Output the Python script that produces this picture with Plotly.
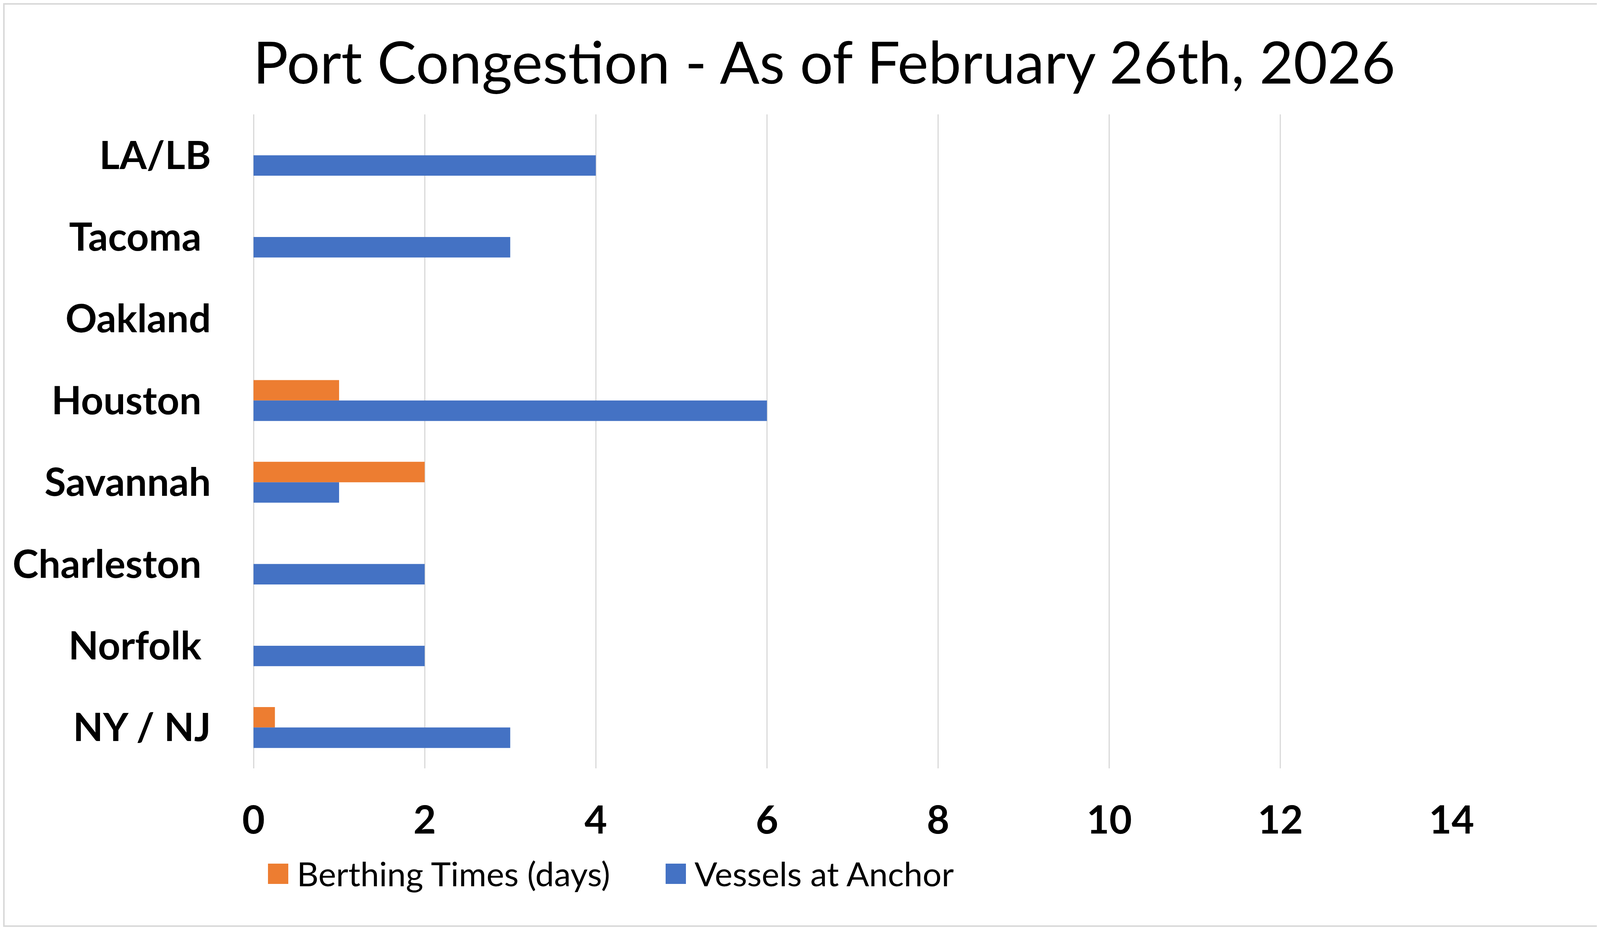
import plotly.graph_objects as go

# data
ports = ["LA/LB", "Tacoma", "Oakland", "Houston", "Savannah", "Charleston", "Norfolk", "NY / NJ"]
port_labels = ["LA/LB", "Tacoma\u00a0", "Oakland", "Houston\u00a0", "Savannah",
               "Charleston\u00a0", "Norfolk\u00a0", "NY / NJ"]
berthing_days = [0, 0, 0, 1, 2, 0, 0, 0.25]
vessels_at_anchor = [4, 3, 0, 6, 1, 2, 2, 3]
x_ticks = [0, 2, 4, 6, 8, 10, 12, 14]

series_names = ["Berthing Times (days)", "Vessels at Anchor"]
series_colors = ["#ED7D31", "#4472C4"]

# page body keeps an 8px margin, so the figure is a bit smaller than the window
OFF = 8
W, H = 4103 - 2 * OFF, 2382 - 2 * OFF
L, R, T, B = 641, 379, 285, 406
plot_w = W - L - R
plot_h = H - T - B


def px_x(px):
    # window pixel -> paper x
    return (px - OFF - L) / plot_w


def px_y(py):
    # window pixel -> paper y
    return (H - B - (py - OFF)) / plot_h


fig = go.Figure()
for name, vals, col in zip(series_names, [berthing_days, vessels_at_anchor], series_colors):
    fig.add_trace(go.Bar(y=ports, x=vals, name=name, orientation="h",
                         marker=dict(color=col, line=dict(width=0)),
                         showlegend=False))

# chart border + legend with big swatches like the original
shapes = [dict(type="rect", xref="paper", yref="paper",
               x0=px_x(OFF + 2), x1=px_x(OFF + W - 2), y0=px_y(OFF + H - 2), y1=px_y(OFF + 2),
               line=dict(color="#D9D9D9", width=4), layer="below")]
annotations = []
legend_x = [686, 1704]
for lx, name, col in zip(legend_x, series_names, series_colors):
    shapes.append(dict(type="rect", xref="paper", yref="paper",
                       x0=px_x(lx), x1=px_x(lx + 52), y0=px_y(2264), y1=px_y(2212),
                       fillcolor=col, line=dict(width=0)))
    annotations.append(dict(xref="paper", yref="paper", x=px_x(lx + 72), y=px_y(2236),
                            text=name, showarrow=False, xanchor="left", yanchor="middle",
                            font=dict(family="Lato", size=86, color="#000000")))

fig.update_layout(
    width=W, height=H,
    margin=dict(l=L, r=R, t=T, b=B, pad=0),
    paper_bgcolor="white", plot_bgcolor="white",
    barmode="group", bargap=0.5, bargroupgap=0,
    title=dict(text="Port Congestion - As of February 26th, 2026",
               xref="container", x=(2110 - OFF) / W, xanchor="center",
               y=1 - (161 - OFF) / H, yanchor="middle",
               font=dict(family="Lato", size=150, color="#000000")),
    shapes=shapes, annotations=annotations,
    showlegend=False,
)
fig.update_xaxes(range=[0, 14], tickvals=x_ticks, showgrid=True,
                 gridcolor="#D9D9D9", gridwidth=3,
                 zeroline=True, zerolinecolor="#D9D9D9", zerolinewidth=3,
                 showline=False, ticks="outside", ticklen=46, tickcolor="rgba(0,0,0,0)",
                 tickfont=dict(family="Lato", size=100, color="#000000", weight="bold"))
fig.update_yaxes(categoryorder="array", categoryarray=ports, autorange="reversed",
                 tickvals=ports, ticktext=port_labels, showgrid=False,
                 showline=False, ticks="outside", ticklen=88, tickcolor="rgba(0,0,0,0)",
                 tickfont=dict(family="Lato", size=100, color="#000000", weight="bold"))

fig.write_html("out.html")
